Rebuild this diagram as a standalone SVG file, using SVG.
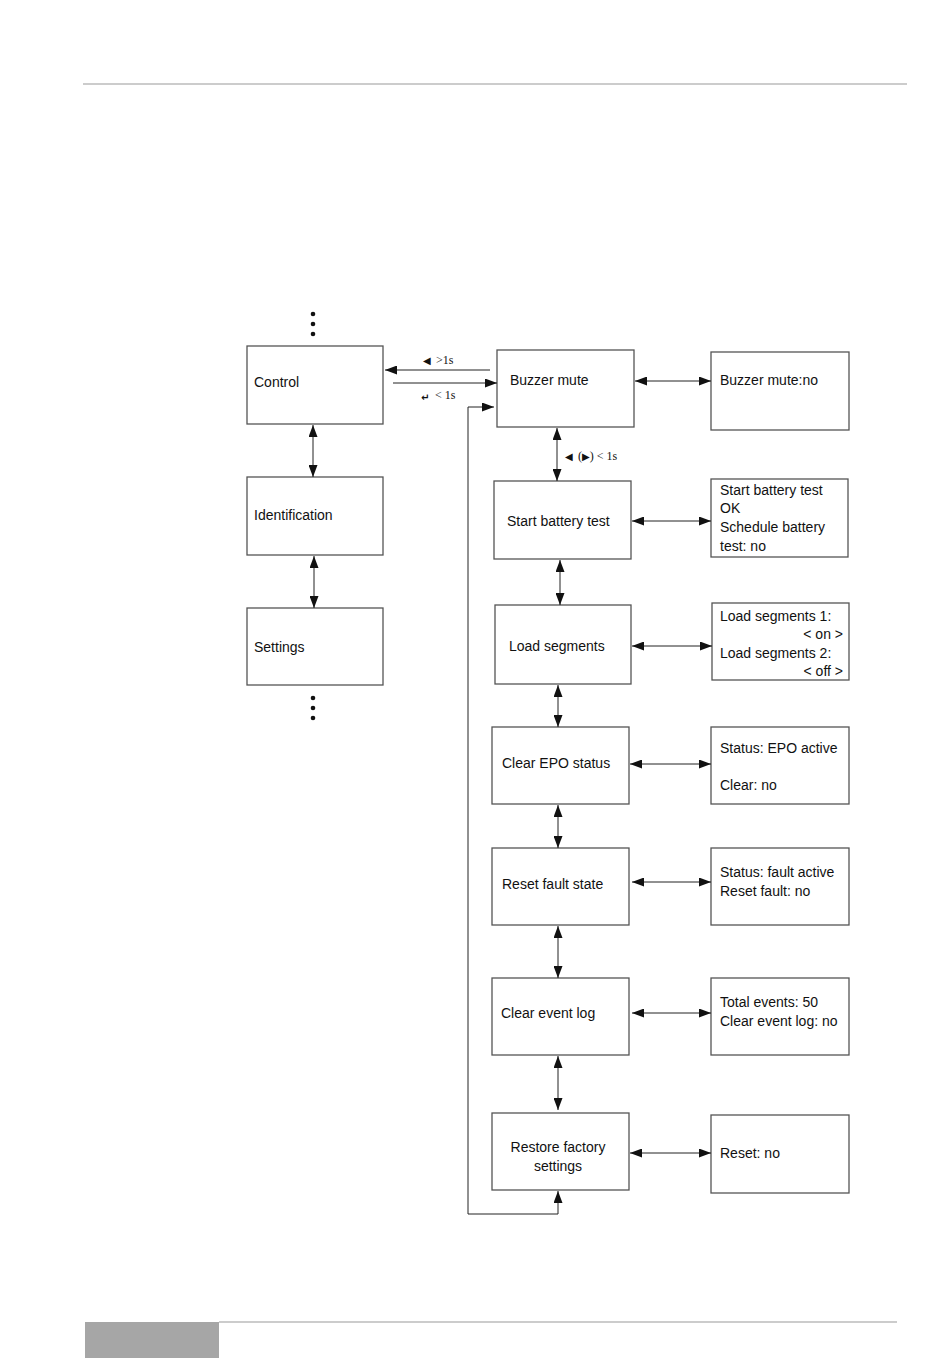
<svg xmlns="http://www.w3.org/2000/svg" width="950" height="1364" viewBox="0 0 950 1364">
<style>
.box{fill:#fff;stroke:#555;stroke-width:1.3}
.t{font-family:"Liberation Sans",Arial,sans-serif;font-size:14px;fill:#111}
.s{font-family:"Liberation Serif","DejaVu Serif",serif;font-size:12px;fill:#111}
.sym{font-family:"DejaVu Sans",sans-serif;font-size:10px;fill:#111}
.c{fill:none;stroke:#222;stroke-width:1}
</style>
<defs>
<marker id="ah" viewBox="0 0 12 9" refX="12" refY="4.5" markerWidth="12" markerHeight="9" markerUnits="userSpaceOnUse" orient="auto-start-reverse">
<path d="M0,0 L12,4.5 L0,9 Z" fill="#111"/>
</marker>
</defs>
<rect width="950" height="1364" fill="#fff"/>
<line x1="83" y1="84" x2="907" y2="84" stroke="#bbb" stroke-width="1.5"/>
<rect x="85" y="1322" width="134" height="36" fill="#a6a6a6"/>
<line x1="219" y1="1322" x2="897" y2="1322" stroke="#bbb" stroke-width="1.5"/>
<g id="dots-top" fill="#111"><circle cx="313" cy="314" r="2.3"/><circle cx="313" cy="324" r="2.3"/><circle cx="313" cy="334" r="2.3"/></g>
<g id="dots-bottom" fill="#111"><circle cx="313" cy="698" r="2.3"/><circle cx="313" cy="708" r="2.3"/><circle cx="313" cy="718" r="2.3"/></g>
<g id="control"><rect class="box" x="247" y="346" width="136" height="78"/><text class="t" x="254" y="387">Control</text></g>
<g id="identification"><rect class="box" x="247" y="477" width="136" height="78"/><text class="t" x="254" y="520">Identification</text></g>
<g id="settings"><rect class="box" x="247" y="608" width="136" height="77"/><text class="t" x="254" y="652">Settings</text></g>
<g id="buzzer-mute"><rect class="box" x="497" y="350" width="137" height="77"/><text class="t" x="510" y="385">Buzzer mute</text></g>
<g id="start-battery-test"><rect class="box" x="494" y="481" width="137" height="78"/><text class="t" x="507" y="526">Start battery test</text></g>
<g id="load-segments"><rect class="box" x="495" y="605" width="136" height="79"/><text class="t" x="509" y="651">Load segments</text></g>
<g id="clear-epo"><rect class="box" x="492" y="727" width="137" height="77"/><text class="t" x="502" y="768">Clear EPO status</text></g>
<g id="reset-fault"><rect class="box" x="492" y="848" width="137" height="77"/><text class="t" x="502" y="889">Reset fault state</text></g>
<g id="clear-event-log"><rect class="box" x="492" y="978" width="137" height="77"/><text class="t" x="501" y="1018">Clear event log</text></g>
<g id="restore-factory"><rect class="box" x="492" y="1113" width="137" height="77"/><text class="t" x="558" y="1152" text-anchor="middle">Restore factory</text><text class="t" x="558" y="1171" text-anchor="middle">settings</text></g>
<g id="buzzer-mute-no"><rect class="box" x="711" y="352" width="138" height="78"/><text class="t" x="720" y="385">Buzzer mute:no</text></g>
<g id="battery-test-detail"><rect class="box" x="711" y="479" width="137" height="78"/><text class="t" x="720" y="495">Start battery test</text><text class="t" x="720" y="513">OK</text><text class="t" x="720" y="532">Schedule battery</text><text class="t" x="720" y="551">test: no</text></g>
<g id="load-segments-detail"><rect class="box" x="712" y="603" width="137" height="77"/><text class="t" x="720" y="621">Load segments 1:</text><text class="t" x="843" y="639" text-anchor="end">&lt; on &gt;</text><text class="t" x="720" y="658">Load segments 2:</text><text class="t" x="843" y="676" text-anchor="end">&lt; off &gt;</text></g>
<g id="epo-detail"><rect class="box" x="711" y="727" width="138" height="77"/><text class="t" x="720" y="753">Status: EPO active</text><text class="t" x="720" y="790">Clear: no</text></g>
<g id="fault-detail"><rect class="box" x="711" y="848" width="138" height="77"/><text class="t" x="720" y="877">Status: fault active</text><text class="t" x="720" y="896">Reset fault: no</text></g>
<g id="event-log-detail"><rect class="box" x="711" y="978" width="138" height="77"/><text class="t" x="720" y="1007">Total events: 50</text><text class="t" x="720" y="1026">Clear event log: no</text></g>
<g id="reset-detail"><rect class="box" x="711" y="1115" width="138" height="78"/><text class="t" x="720" y="1158">Reset: no</text></g>
<g id="connectors">
<line class="c" x1="490" y1="370" x2="385" y2="370" marker-end="url(#ah)"/>
<line class="c" x1="393" y1="383" x2="497" y2="383" marker-end="url(#ah)"/>
<polyline class="c" points="558,1191 558,1214 468,1214 468,407 494,407" marker-end="url(#ah)" marker-start="url(#ah)"/>
<line class="c" x1="313" y1="425" x2="313" y2="477" marker-start="url(#ah)" marker-end="url(#ah)"/>
<line class="c" x1="314" y1="556" x2="314" y2="608" marker-start="url(#ah)" marker-end="url(#ah)"/>
<line class="c" x1="557" y1="428" x2="557" y2="481" marker-start="url(#ah)" marker-end="url(#ah)"/>
<line class="c" x1="560" y1="560" x2="560" y2="605" marker-start="url(#ah)" marker-end="url(#ah)"/>
<line class="c" x1="558" y1="685" x2="558" y2="727" marker-start="url(#ah)" marker-end="url(#ah)"/>
<line class="c" x1="558" y1="805" x2="558" y2="848" marker-start="url(#ah)" marker-end="url(#ah)"/>
<line class="c" x1="558" y1="926" x2="558" y2="978" marker-start="url(#ah)" marker-end="url(#ah)"/>
<line class="c" x1="558" y1="1056" x2="558" y2="1110" marker-start="url(#ah)" marker-end="url(#ah)"/>
<line class="c" x1="635" y1="381" x2="711" y2="381" marker-start="url(#ah)" marker-end="url(#ah)"/>
<line class="c" x1="632" y1="521" x2="711" y2="521" marker-start="url(#ah)" marker-end="url(#ah)"/>
<line class="c" x1="632" y1="646" x2="712" y2="646" marker-start="url(#ah)" marker-end="url(#ah)"/>
<line class="c" x1="630" y1="764" x2="711" y2="764" marker-start="url(#ah)" marker-end="url(#ah)"/>
<line class="c" x1="632" y1="882" x2="711" y2="882" marker-start="url(#ah)" marker-end="url(#ah)"/>
<line class="c" x1="632" y1="1013" x2="711" y2="1013" marker-start="url(#ah)" marker-end="url(#ah)"/>
<line class="c" x1="630" y1="1153" x2="711" y2="1153" marker-start="url(#ah)" marker-end="url(#ah)"/>
<text class="sym" x="423" y="364">◀</text><text class="s" x="436" y="364">&gt;1s</text>
<text class="sym" x="421" y="401" font-size="15" font-weight="bold">↵</text><text class="s" x="435" y="399">&lt; 1s</text>
<text class="sym" x="565" y="460">◀</text><text class="s" x="578" y="460">(<tspan class="sym">▶</tspan>) &lt; 1s</text>
</g>
</svg>
